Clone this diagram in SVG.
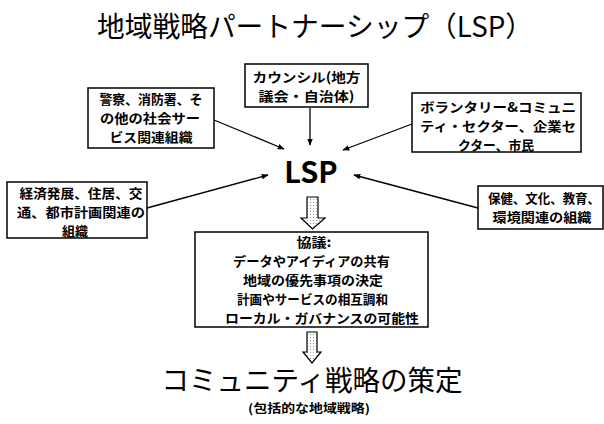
<svg xmlns="http://www.w3.org/2000/svg" width="604" height="424" viewBox="0 0 604 424">
<style>
text{font-family:"Noto Sans CJK JP","Noto Sans CJK SC",sans-serif;fill:#000;text-anchor:middle}
.t{font-size:13px;font-weight:bold}
.box{fill:#fff;stroke:#000;stroke-width:1.5}
.con{stroke:#000;stroke-width:1.3;fill:none;marker-end:url(#ah)}
.blk{fill:url(#dots);stroke:#000;stroke-width:1.2}
</style>
<defs>
<marker id="ah" viewBox="0 0 10 10" refX="9" refY="5" markerWidth="7" markerHeight="7" orient="auto" markerUnits="userSpaceOnUse">
<path d="M0,1 L10,5 L0,9 z" fill="#000"/>
</marker>
<pattern id="dots" width="3" height="3" patternUnits="userSpaceOnUse">
<rect width="3" height="3" fill="#fff"/>
<rect x="1" y="1" width="1" height="1" fill="#999"/>
</pattern>
</defs>
<rect width="604" height="424" fill="#fff"/>

<g id="title">
<text x="315" y="37" font-size="28" textLength="436" lengthAdjust="spacingAndGlyphs">地域戦略パートナーシップ（LSP）</text>
</g>

<g id="connectors">
<line class="con" x1="310" y1="108" x2="310" y2="145"/>
<line class="con" x1="214" y1="120" x2="284" y2="149"/>
<line class="con" x1="412" y1="124" x2="343" y2="150"/>
<line class="con" x1="147" y1="208" x2="268" y2="175"/>
<line class="con" x1="478" y1="208" x2="354" y2="175"/>
<path class="blk" d="M307,197 H318 V218 H325 L312.5,229 L301,218 H307 Z"/>
<path class="blk" d="M307,332 H317 V352 H321 L312,363 L303,352 H307 Z"/>
</g>

<g id="council">
<rect class="box" x="245" y="64" width="123" height="43"/>
<text class="t" x="306.5" y="82" textLength="108" lengthAdjust="spacingAndGlyphs">カウンシル(地方</text>
<text class="t" x="306.5" y="101" textLength="96" lengthAdjust="spacingAndGlyphs">議会・自治体)</text>
</g>

<g id="police">
<rect class="box" x="88" y="88" width="126" height="60"/>
<text class="t" x="151" y="104" textLength="103" lengthAdjust="spacingAndGlyphs">警察、消防署、そ</text>
<text class="t" x="150" y="123" textLength="100" lengthAdjust="spacingAndGlyphs">の他の社会サー</text>
<text class="t" x="151" y="142" textLength="83" lengthAdjust="spacingAndGlyphs">ビス関連組織</text>
</g>

<g id="voluntary">
<rect class="box" x="412" y="93" width="169" height="59"/>
<text class="t" x="498" y="112" textLength="156" lengthAdjust="spacingAndGlyphs">ボランタリー&amp;コミュニ</text>
<text class="t" x="498" y="131" textLength="156" lengthAdjust="spacingAndGlyphs">ティ・セクター、企業セ</text>
<text class="t" x="496" y="150" textLength="76" lengthAdjust="spacingAndGlyphs">クター、市民</text>
</g>

<g id="economy">
<rect class="box" x="7" y="182" width="140" height="56"/>
<text class="t" x="81" y="198" textLength="123" lengthAdjust="spacingAndGlyphs">経済発展、住居、交</text>
<text class="t" x="81" y="217" textLength="128" lengthAdjust="spacingAndGlyphs">通、都市計画関連の</text>
<text class="t" x="75" y="236">組織</text>
</g>

<g id="health">
<rect class="box" x="478" y="186" width="125" height="43"/>
<text class="t" x="544" y="203" textLength="112" lengthAdjust="spacingAndGlyphs">保健、文化、教育、</text>
<text class="t" x="542" y="222" textLength="99" lengthAdjust="spacingAndGlyphs">環境関連の組織</text>
</g>

<g id="lsp">
<text x="311" y="183" font-size="29" font-weight="bold" font-family="Liberation Sans,Arial,sans-serif">LSP</text>
</g>

<g id="consult">
<rect class="box" x="195" y="232" width="233" height="95"/>
<text class="t" x="314" y="247" textLength="35" lengthAdjust="spacingAndGlyphs">協議:</text>
<text class="t" x="311.5" y="266" textLength="157" lengthAdjust="spacingAndGlyphs">データやアイディアの共有</text>
<text class="t" x="313" y="285" textLength="140" lengthAdjust="spacingAndGlyphs">地域の優先事項の決定</text>
<text class="t" x="312.5" y="304" textLength="151" lengthAdjust="spacingAndGlyphs">計画やサービスの相互調和</text>
<text class="t" x="322" y="323" textLength="194" lengthAdjust="spacingAndGlyphs">ローカル・ガバナンスの可能性</text>
</g>

<g id="strategy">
<text x="312" y="391" font-size="28" textLength="301" lengthAdjust="spacingAndGlyphs">コミュニティ戦略の策定</text>
<text x="309" y="413" font-size="12" font-weight="bold" textLength="122" lengthAdjust="spacingAndGlyphs">(包括的な地域戦略)</text>
</g>
</svg>
